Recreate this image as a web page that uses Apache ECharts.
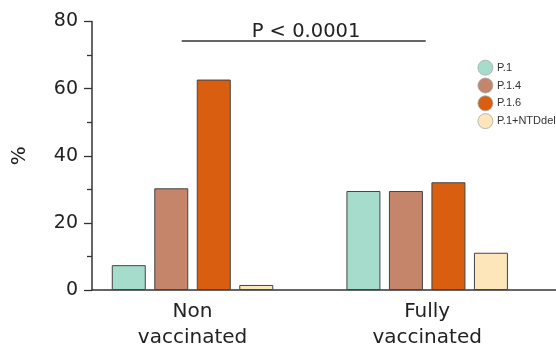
<!DOCTYPE html>
<html>
<head>
<meta charset="utf-8">
<script src="https://cdn.jsdelivr.net/npm/echarts@6/dist/echarts.min.js"></script>
<style>html,body{margin:0;padding:0;background:#fff}#c{width:556px;height:346px}</style>
</head>
<body>
<div id="c"></div>
<script>
const categories = ['Non\nvaccinated', 'Fully\nvaccinated'];
const seriesNames = ['P.1', 'P.1.4', 'P.1.6', 'P.1+NTDdel'];
const p1 = [7.4, 29.5];
const p14 = [30.3, 29.5];
const p16 = [62.7, 32.1];
const p1ntd = [1.5, 11.1];
const yTicks = [0, 20, 40, 60, 80];
const annotation = 'P < 0.0001';

const colors = ['#a6dccb', '#c4856a', '#d95e10', '#fde6b9'];
const values = [p1, p14, p16, p1ntd];
const FONT = 'DejaVu Sans';

const chart = echarts.init(document.getElementById('c'), null, {renderer: 'canvas'});
chart.setOption({
  animation: false,
  backgroundColor: '#fff',
  grid: [
    {left: 75.2, right: 11.5, top: 21.5, bottom: 56, containLabel: false, outerBoundsMode: 'none'},
    {left: 92, right: 0, top: 21.5, bottom: 56, containLabel: false, outerBoundsMode: 'none'}
  ],
  legend: {
    orient: 'vertical', left: 477.5, top: 59.8, padding: 0,
    icon: 'circle', itemWidth: 15, itemHeight: 15, itemGap: 2,
    itemStyle: {borderColor: '#aaa', borderWidth: 0.8},
    textStyle: {fontFamily: "'Liberation Sans Narrow', 'Liberation Sans'", fontSize: 11, color: '#333', padding: [0, 0, 0, -1]},
    data: seriesNames
  },
  xAxis: [
    {type: 'category', gridIndex: 0, data: categories,
     axisLine: {show: false}, axisTick: {show: false},
     axisLabel: {fontFamily: FONT, fontSize: 20, color: '#222', margin: 9, lineHeight: 26}},
    {type: 'value', gridIndex: 1, min: 0, max: 1,
     axisLine: {show: true, onZero: false, lineStyle: {color: '#333', width: 1.5}},
     axisTick: {show: false}, axisLabel: {show: false}, splitLine: {show: false}}
  ],
  yAxis: [
    {type: 'value', gridIndex: 0, min: 0, max: 80, show: false},
    {type: 'value', gridIndex: 1, min: yTicks[0], max: yTicks[yTicks.length - 1], interval: 20,
     name: '%', nameLocation: 'middle', nameGap: 62, nameRotate: 90,
     nameTextStyle: {fontFamily: FONT, fontSize: 20, color: '#222'},
     axisLine: {show: true, lineStyle: {color: '#333', width: 1.5}},
     axisTick: {show: true, length: 8, lineStyle: {color: '#333', width: 1.3}},
     minorTick: {show: true, splitNumber: 2, length: 5, lineStyle: {color: '#333', width: 1.3}},
     axisLabel: {fontFamily: FONT, fontSize: 19, color: '#222', margin: 14},
     splitLine: {show: false}}
  ],
  series: seriesNames.map((name, i) => ({
    name: name, type: 'bar', xAxisIndex: 0, yAxisIndex: 0,
    data: values[i], barWidth: 34, barGap: '25%',
    itemStyle: {color: colors[i], borderColor: '#444', borderWidth: 1}
  })),
  graphic: [
    {type: 'line', shape: {x1: 181.7, y1: 41, x2: 425.7, y2: 41},
     style: {stroke: '#333', lineWidth: 1.5}},
    {type: 'text', x: 306, y: 32,
     style: {text: annotation, fontFamily: FONT, fontSize: 19.5, fill: '#222', align: 'center', verticalAlign: 'middle'}}
  ]
});
</script>
</body>
</html>
